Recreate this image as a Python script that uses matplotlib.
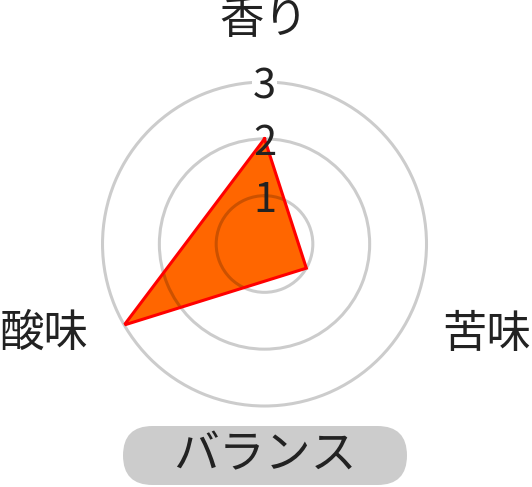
"""Radar chart of a coffee taste profile (香り / 苦味 / 酸味) with a balance badge."""

import matplotlib
matplotlib.use("Agg")
import matplotlib.pyplot as plt
from matplotlib.patches import FancyBboxPatch
import numpy as np

plt.rcParams['font.family'] = ['Noto Sans CJK JP', 'DejaVu Sans']

# data
categories = ["香り", "苦味", "酸味"]
values = [2, 1, 3]
ticks = [1, 2, 3]
badge_label = "バランス"

TEXT = "#222222"

fig = plt.figure(figsize=(5.32, 4.87), dpi=100)

ax = fig.add_axes([0.1927, 0.1663, 0.609, 0.6653], projection="polar")
ax.set_theta_offset(np.pi / 2)
ax.set_theta_direction(-1)
ax.set_ylim(0.15, 3)
ax.patch.set_alpha(0)
ax.spines["polar"].set_visible(False)
ax.set_xticks([])
ax.xaxis.grid(False)
ax.set_yticks(ticks)
ax.set_yticklabels([])
ax.yaxis.grid(True, color="black", alpha=0.2, linewidth=2.2)
ax.set_axisbelow(False)
for gl in ax.yaxis.get_gridlines():
    gl.set_clip_on(False)

# polygon
theta = np.arange(len(categories)) * 2 * np.pi / len(categories)
theta_c = np.append(theta, theta[0])
values_c = np.append(values, values[0])
ax.fill(theta_c, values_c, color="#ff6600", linewidth=0, zorder=1)
ax.plot(theta_c, values_c, color="#ff0000", linewidth=2.2, zorder=3,
        solid_joinstyle="miter")

# scale labels on the top axis (outer one sits on a white backdrop)
for t in ticks:
    kw = {}
    if t == ticks[-1]:
        kw["bbox"] = dict(facecolor="white", edgecolor="none", pad=1)
    ax.text(0, t, str(t), ha="center", va="center_baseline", fontsize=30,
            color=TEXT, zorder=4, **kw)

# category labels
fig.text(0.496, 0.958, categories[0], ha="center", va="center", fontsize=32, color=TEXT)
fig.text(0.832, 0.314, categories[1], ha="left", va="center", fontsize=32, color=TEXT)
fig.text(0.167, 0.316, categories[2], ha="right", va="center", fontsize=32, color=TEXT)

# badge
bx = fig.add_axes([123 / 532, 2 / 487, 284 / 532, 59 / 487])
bx.set_xlim(0, 284)
bx.set_ylim(0, 59)
bx.axis("off")
bx.add_patch(FancyBboxPatch((0, 0), 284, 59, boxstyle="round,pad=0,rounding_size=29.5",
                            facecolor="#cccccc", edgecolor="none"))
bx.text(142, 29.5, badge_label, ha="center", va="center", fontsize=33, color=TEXT)

fig.savefig("out.png", dpi=100)
